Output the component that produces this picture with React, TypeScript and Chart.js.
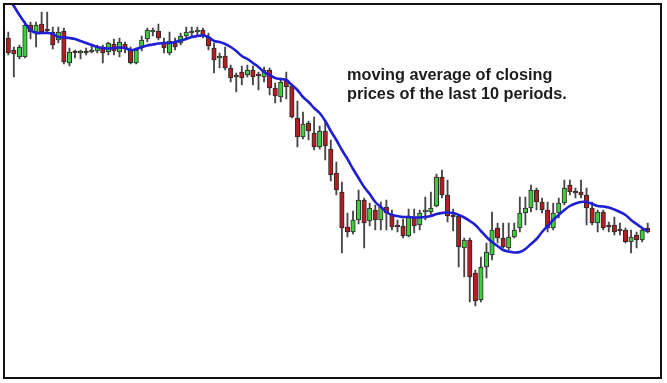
import React, { useEffect, useRef } from "react";
import { Chart, registerables } from "chart.js";

Chart.register(...registerables);

// OHLC prices (arbitrary price units, higher = up), one entry per period
const openPrices = [
  362, 350, 343, 343, 375, 368, 376, 370, 368, 360, 369, 337, 348, 347, 348, 348, 349, 352, 348, 356,
  348, 356, 350, 337, 352, 361, 368, 369, 358, 347, 357, 357, 364, 367, 368, 370, 363, 352, 342, 344,
  332, 324, 328, 325, 330, 325, 323, 330, 312, 303, 320, 314, 282, 263, 277, 267, 253, 269, 251, 227,
  208, 173, 168, 180, 200, 179, 190, 180, 193, 186, 174, 174, 164, 183, 175, 188, 188, 194, 223, 205,
  184, 184, 152, 160, 127, 100, 133, 145, 172, 162, 152, 163, 172, 187, 192, 210, 198, 190, 172, 187,
  197, 215, 208, 208, 205, 192, 177, 188, 174, 175, 170, 170, 158, 165, 160, 172,
];
const highPrices = [
  368, 353, 355, 378, 378, 378, 388, 388, 373, 373, 372, 352, 350, 350, 352, 354, 355, 355, 358, 361,
  362, 358, 353, 352, 364, 372, 372, 376, 362, 368, 362, 367, 373, 373, 373, 372, 367, 357, 347, 353,
  335, 327, 334, 335, 334, 328, 333, 332, 317, 322, 328, 316, 299, 288, 279, 283, 274, 280, 260, 238,
  218, 187, 189, 210, 202, 197, 195, 198, 200, 190, 180, 181, 191, 191, 190, 203, 208, 226, 230, 220,
  191, 185, 162, 162, 130, 143, 157, 188, 177, 177, 177, 177, 203, 203, 215, 212, 202, 198, 197, 202,
  220, 220, 212, 220, 212, 198, 190, 190, 178, 183, 177, 172, 170, 168, 172, 177,
];
const lowPrices = [
  345, 323, 341, 342, 361, 353, 367, 368, 351, 357, 336, 334, 342, 341, 345, 347, 347, 337, 345, 345,
  343, 347, 336, 336, 349, 358, 364, 360, 347, 345, 350, 355, 362, 363, 365, 362, 350, 327, 332, 330,
  318, 308, 315, 323, 315, 310, 318, 305, 297, 298, 301, 282, 253, 261, 260, 250, 251, 240, 219, 205,
  147, 163, 166, 176, 152, 174, 170, 170, 170, 170, 168, 162, 163, 167, 170, 180, 185, 193, 202, 178,
  169, 133, 123, 98, 94, 98, 122, 140, 157, 152, 150, 162, 168, 175, 188, 190, 187, 168, 170, 182,
  195, 205, 202, 202, 175, 175, 168, 170, 168, 165, 165, 157, 147, 152, 158, 167,
];
const closePrices = [
  347, 346, 353, 375, 368, 375, 368, 369, 355, 368, 338, 348, 347, 348, 347, 350, 353, 347, 357, 349,
  358, 352, 337, 350, 360, 370, 369, 362, 352, 359, 353, 364, 368, 368, 369, 365, 354, 340, 344, 332,
  322, 323, 322, 330, 323, 324, 330, 312, 304, 318, 313, 283, 263, 276, 269, 253, 269, 254, 225, 210,
  172, 168, 180, 200, 177, 192, 180, 193, 187, 173, 173, 164, 184, 174, 187, 189, 192, 223, 205, 184,
  183, 153, 160, 123, 99, 133, 148, 170, 162, 153, 163, 170, 187, 192, 210, 198, 190, 172, 187, 197,
  212, 208, 207, 205, 192, 177, 188, 172, 173, 168, 169, 158, 163, 160, 170, 168,
];
// 10-period moving average of closing prices, as drawn
const movingAverage = [
  402, 394, 385, 377, 370, 367, 367, 367, 366, 363, 362.5, 362, 361, 359, 357, 355, 353, 352, 351.5, 352,
  352.5, 352, 350, 351, 353, 354.5, 355.5, 356.5, 357, 357, 358, 359.5, 361, 363, 364, 364.5, 363, 359, 358, 356,
  353, 349, 344, 341, 337, 333, 328, 325, 322, 321, 320, 315, 310, 303, 298, 292, 287, 279, 269, 260,
  250, 241, 231, 222, 213, 206, 198, 193, 188, 185, 184, 183, 183, 182.5, 182.5, 183, 184, 186, 187, 187.5,
  187, 185, 182.5, 179, 175, 169, 163, 158, 154, 150, 148.5, 147.5, 148, 151, 156, 161, 168, 174, 180, 185,
  190, 194, 196.5, 198, 198, 196, 194, 193.5, 192.5, 190.5, 188, 185, 180, 176, 172, 169,
];
const periods = openPrices.map((_, i) => String(i + 1));
const annotationLines = ["moving average of closing", "prices of the last 10 periods."];

const GREEN = "#3fcc3f";
const RED = "#b01e22";

export default function App() {
  const canvasRef = useRef<HTMLCanvasElement | null>(null);

  useEffect(() => {
    const canvas = canvasRef.current;
    if (!canvas) return;
    const bodyColors = openPrices.map((o, i) => (closePrices[i] >= o ? GREEN : RED));
    const chart = new Chart(canvas, {
      type: "bar",
      data: {
        labels: periods,
        datasets: [
          {
            type: "line",
            label: "10-period MA",
            data: movingAverage,
            borderColor: "#1f1fd6",
            borderWidth: 2.6,
            pointRadius: 0,
            tension: 0.4,
            fill: false,
            order: 0,
          } as any,
          {
            type: "bar",
            label: "Body",
            data: openPrices.map((o, i) => [o, closePrices[i]]),
            backgroundColor: bodyColors,
            borderColor: "#2a2a2a",
            borderWidth: 1,
            borderSkipped: false,
            barThickness: 4.5,
            minBarLength: 2,
            grouped: false,
            order: 1,
          } as any,
          {
            type: "bar",
            label: "Wick",
            data: lowPrices.map((l, i) => [l, highPrices[i]]),
            backgroundColor: "#474747",
            borderWidth: 0,
            barThickness: 1.2,
            grouped: false,
            order: 2,
          } as any,
        ],
      },
      options: {
        animation: false,
        responsive: false,
        layout: { padding: { left: 5.5, right: 16.5, top: 5, bottom: 6 } },
        plugins: { legend: { display: false }, tooltip: { enabled: true } },
        scales: {
          x: { display: false, offset: true, grid: { display: false } },
          y: { display: false, min: 23, max: 395, grid: { display: false } },
        },
      },
    });
    return () => chart.destroy();
  }, []);

  return (
    <div style={{ position: "absolute", left: 0, top: 0, width: 667, height: 383, background: "#fff" }}>
      <canvas ref={canvasRef} width={667} height={383} style={{ position: "absolute", left: 0, top: 0, width: 667, height: 383 }} />
      <div
        style={{
          position: "absolute",
          left: 3,
          top: 3,
          width: 659,
          height: 376,
          border: "2px solid #111",
          boxSizing: "border-box",
          pointerEvents: "none",
        }}
      />
      <div
        style={{
          position: "absolute",
          left: 347,
          top: 65,
          fontFamily: '"Liberation Sans", Arial, sans-serif',
          fontWeight: 700,
          fontSize: 16.3,
          lineHeight: "19px",
          color: "#1c1c1c",
          whiteSpace: "nowrap",
        }}
      >
        {annotationLines.map((t) => (
          <div key={t}>{t}</div>
        ))}
      </div>
    </div>
  );
}
